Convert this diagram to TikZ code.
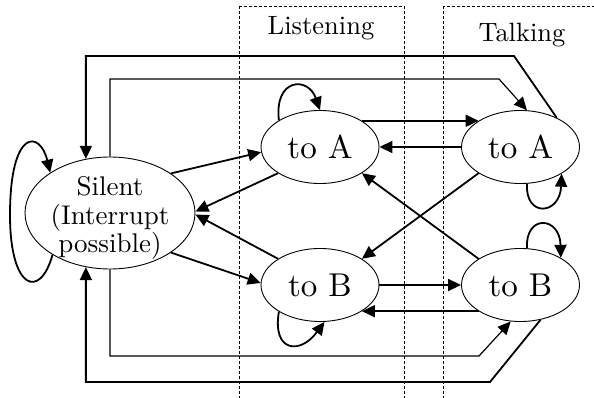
\documentclass[tikz,border=0pt]{standalone}
\usepackage{fontspec}
\setmainfont{lmroman10-regular.otf}
\usetikzlibrary{arrows.meta,shapes.geometric}
\begin{document}
\begin{tikzpicture}[x=1pt,y=-1pt,
  state/.style={draw,ellipse,line width=0.9pt,inner sep=0pt,
    minimum width=118pt,minimum height=73pt,font=\fontsize{33}{37}\selectfont},
  link/.style={line width=1.8pt,-{Triangle[length=13pt,width=12pt]}},
  thinlink/.style={line width=1.2pt,-{Triangle[length=13pt,width=12pt]}},
  zone/.style={draw,line width=0.6pt,dash pattern=on 3pt off 2pt},
  lab/.style={font=\fontsize{26.5}{30}\selectfont,anchor=base}]
\useasboundingbox (0,0) rectangle (594,398);
\clip (0,0) rectangle (594,398);

% phase regions
\draw[zone] (239,6) rectangle (404,410);
\draw[zone] (443,6) rectangle (610,410);
\node[lab] (listen) at (321,35) {Listening};
\node[lab] (talk) at (522,42) {Talking};

% states
\node[state,minimum width=170pt,minimum height=112pt] (S) at (110,213) {};
\node[font=\fontsize{27}{28.5}\selectfont,align=center] (St) at (110,218)
  {Silent\\(Interrupt\\possible)};
\node[state] (LA) at (320,147) {to A};
\node[state] (LB) at (320,285) {to B};
\node[state] (TA) at (520.5,147) {to A};
\node[state] (TB) at (520.5,285) {to B};

% transitions between neighbouring states
\draw[link] (S.33) -- (LA.185);
\draw[link] (S.-33) -- (LB.178);
\draw[link] (LA.212) -- (S.1);
\draw[link] (LB.148) -- (S.-1);
\draw[link] (LA.32) -- (TA.148);
\draw[link] (TA.west) -- (LA.east);
\draw[link] (LB.east) -- (TB.west);
\draw[link] (TB.212) -- (LB.-32);
\draw[link] (TA.212) -- (LB.32);
\draw[link] (TB.148) -- (LA.-32);

% long transitions around the outside
\draw[link] (TA.39) -- (514,56) -- (S.114 |- 0,56) -- (S.114);
\draw[thinlink] (S.north) -- (S.north |- 0,79) -- (499,79) -- (TA.80);
\draw[thinlink] (S.south) -- (S.south |- 0,356) -- (479,356) -- (TB.255);
\draw[link] (TB.-60) -- (490,382) -- (S.246 |- 0,382) -- (S.246);

% self loops
\draw[link] (S.216) .. controls (40,300) and (10,290) .. (10,215)
  .. controls (10,128) and (40,130) .. (S.146);
\draw[link] (LA.147) .. controls (274,78) and (308,76) .. (LA.north);
\draw[link] (LB.213) .. controls (272,352) and (300,355) .. (LB.-83);
\draw[link] (TA.-80) .. controls (525,218) and (560,215) .. (TA.-33);
\draw[link] (TB.80) .. controls (525,214) and (560,216) .. (TB.34);
\end{tikzpicture}
\end{document}
